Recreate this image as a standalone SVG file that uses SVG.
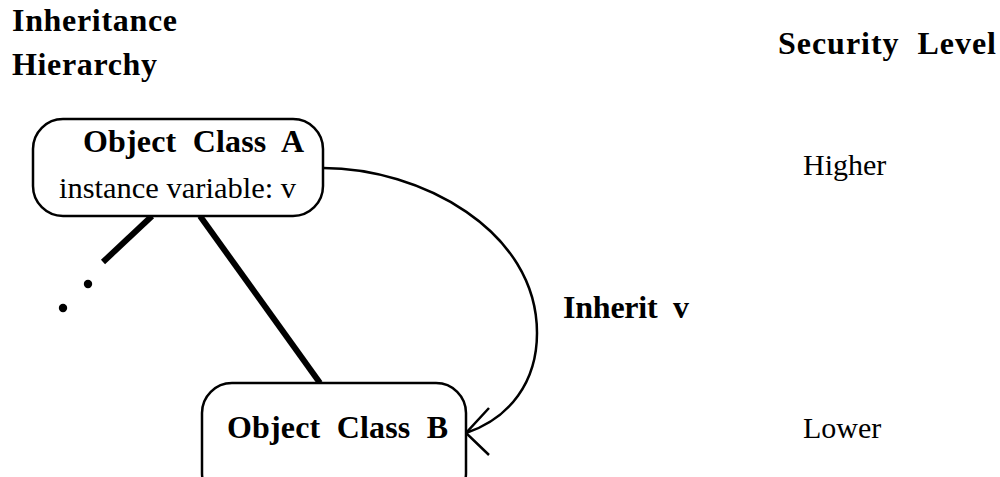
<svg xmlns="http://www.w3.org/2000/svg" width="1000" height="477" viewBox="0 0 1000 477">
  <style>
    .bold { font-family: "Liberation Serif", "Times New Roman", serif; font-weight: bold; fill: #000; }
    .reg { font-family: "Liberation Serif", "Times New Roman", serif; font-weight: normal; fill: #000; }
    .box { fill: #fff; stroke: #000; stroke-width: 2.5; }
    .thick { stroke: #000; stroke-width: 6; fill: none; }
    .thin { stroke: #000; stroke-width: 2.5; fill: none; }
  </style>
  <rect width="1000" height="477" fill="#fff"/>

  <g id="headings">
    <text class="bold" x="12" y="31" font-size="32" textLength="165" lengthAdjust="spacing">Inheritance</text>
    <text class="bold" x="12" y="75" font-size="32" textLength="145" lengthAdjust="spacing">Hierarchy</text>
    <text class="bold" x="778" y="54" font-size="32" textLength="218" lengthAdjust="spacing" xml:space="preserve">Security  Level</text>
  </g>

  <g id="levels">
    <text class="reg" x="803" y="175" font-size="30">Higher</text>
    <text class="reg" x="803" y="438" font-size="30">Lower</text>
  </g>

  <g id="connectors">
    <line class="thick" x1="152" y1="216" x2="103" y2="262"/>
    <line class="thick" x1="200" y1="216" x2="320" y2="383"/>
    <circle cx="88" cy="284" r="4.2" fill="#000"/>
    <circle cx="63" cy="308" r="4.2" fill="#000"/>
    <path class="thin" d="M323,168 C420,168 537,230 537,333 C537,382 510,418 466,433"/>
    <path class="thin" d="M489,408 L466,433 L489,455"/>
    <text class="bold" x="563" y="318" font-size="32" textLength="126" lengthAdjust="spacing" xml:space="preserve">Inherit  v</text>
  </g>

  <g id="classA">
    <rect class="box" x="33" y="119" width="290" height="97" rx="30" ry="30"/>
    <text class="bold" x="83" y="152" font-size="32" textLength="221" lengthAdjust="spacing" xml:space="preserve">Object  Class  A</text>
    <text class="reg" x="59" y="198" font-size="30" textLength="237" lengthAdjust="spacingAndGlyphs">instance variable: v</text>
  </g>

  <g id="classB">
    <rect class="box" x="202" y="383" width="264" height="120" rx="30" ry="30"/>
    <text class="bold" x="227" y="438" font-size="32" textLength="221" lengthAdjust="spacing" xml:space="preserve">Object  Class  B</text>
  </g>
</svg>
